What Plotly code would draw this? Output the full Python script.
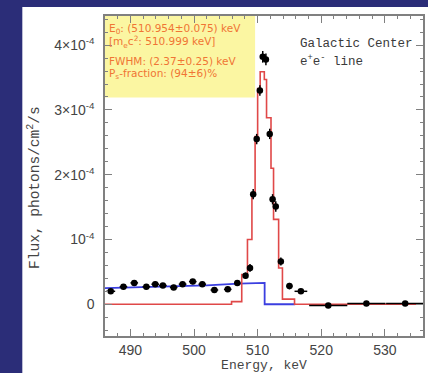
import plotly.graph_objects as go

# Measured spectrum (flux in units of 1e-4 photons/cm^2/s)
energy = [486.9, 488.9, 490.6, 492.5, 493.9, 495.1, 496.8, 498.2, 499.8, 501.3,
          503.2, 505.3, 506.8, 508.1, 508.8, 509.3, 509.85, 510.35, 510.8, 511.3,
          511.9, 512.35, 512.85, 513.65, 515.0, 516.8, 521.1, 527.1, 533.2]
flux = [0.20, 0.27, 0.33, 0.27, 0.31, 0.29, 0.26, 0.31, 0.35, 0.31,
        0.22, 0.23, 0.33, 0.44, 0.56, 1.70, 2.55, 3.30, 3.82, 3.78,
        2.63, 1.62, 1.51, 0.66, 0.28, 0.20, -0.02, 0.01, 0.01]
flux_err = [0.04, 0.04, 0.04, 0.04, 0.04, 0.04, 0.04, 0.04, 0.04, 0.04,
            0.04, 0.04, 0.04, 0.05, 0.06, 0.08, 0.08, 0.08, 0.09, 0.09,
            0.08, 0.08, 0.08, 0.06, 0.05, 0.04, 0.03, 0.03, 0.03]
energy_err = [0.7, 0.6, 0.6, 0.6, 0.6, 0.6, 0.6, 0.6, 0.6, 0.6,
              0.6, 0.6, 0.5, 0.3, 0.3, 0.25, 0.25, 0.25, 0.25, 0.25,
              0.25, 0.25, 0.25, 0.3, 0.5, 1.0, 3.0, 3.0, 3.0]

# Line model (step histogram): bin left edges and contents
line_edges = [486.0, 505.9, 507.5, 508.4, 509.1, 509.6, 510.0, 510.4, 511.05, 511.4,
              512.1, 512.5, 513.3, 513.9, 515.8, 536.0]
line_flux = [0.0, 0.04, 0.46, 1.0, 1.7, 2.59, 3.33, 3.59, 3.47, 2.88,
             2.10, 1.31, 0.56, 0.08, 0.0, 0.0]

# Ortho-positronium continuum
cont_energy = [486.0, 495.0, 502.0, 507.0, 511.1, 511.1, 515.9]
cont_flux = [0.25, 0.27, 0.29, 0.32, 0.33, 0.0, 0.0]

y_tickvals = [0, 1, 2, 3, 4]
y_ticktext = ["0", "10<sup>-4</sup>", "2×10<sup>-4</sup>", "3×10<sup>-4</sup>", "4×10<sup>-4</sup>"]
x_tickvals = [490, 500, 510, 520, 530]

NAVY = "#2b2d78"
AXIS = "#808080"
TXT = "#444444"
ORANGE = "#f07534"

fig = go.Figure()

fig.add_trace(go.Scatter(
    x=cont_energy, y=cont_flux, mode="lines",
    line=dict(color="#3b3fe0", width=1.8), hoverinfo="skip"))

fig.add_trace(go.Scatter(
    x=line_edges, y=line_flux, mode="lines", line_shape="hv",
    line=dict(color="#e04848", width=1.6), hoverinfo="skip"))

fig.add_trace(go.Scatter(
    x=energy, y=flux, mode="markers",
    marker=dict(color="black", size=6.5),
    error_y=dict(type="data", array=flux_err, color="black", thickness=1.5, width=0),
    error_x=dict(type="data", array=energy_err, color="black", thickness=1.5, width=0)))

# White panel behind the chart
fig.add_shape(type="rect", xref="paper", yref="paper",
              x0=-0.26, x1=1.02, y0=-0.2, y1=1.028,
              fillcolor="white", line_width=0, layer="below")
# Fit-result box
fig.add_shape(type="rect", xref="x", yref="paper",
              x0=486, x1=509.6, y0=0.745, y1=1.0,
              fillcolor="#fbf6a2", line_width=0, layer="below")

box_lines = [
    ("E<sub>0</sub>: (510.954±0.075) keV", 0.958),
    ("[m<sub>e</sub>c<sup>2</sup>: 510.999 keV]", 0.918),
    ("FWHM: (2.37±0.25) keV", 0.858),
    ("P<sub>s</sub>-fraction: (94±6)%", 0.818),
]
for txt, yp in box_lines:
    fig.add_annotation(text=txt, xref="paper", yref="paper", x=0.006, y=yp,
                       xanchor="left", yanchor="middle", showarrow=False,
                       font=dict(family="DejaVu Sans", size=10.5, color=ORANGE))

fig.add_annotation(text="Galactic Center", xref="paper", yref="paper", x=0.606, y=0.913,
                   xanchor="left", yanchor="middle", showarrow=False,
                   font=dict(family="Liberation Mono", size=12.5, color="#3a3a3a"))
fig.add_annotation(text="e<sup>+</sup>e<sup>-</sup> line", xref="paper", yref="paper",
                   x=0.606, y=0.860, xanchor="left", yanchor="middle", showarrow=False,
                   font=dict(family="Liberation Mono", size=12.5, color="#3a3a3a"))

# Y-axis title, placed as a rotated label
fig.add_annotation(text="Flux, photons/cm<sup>2</sup>/s", xref="paper", yref="paper",
                   x=-0.225, y=0.464, xanchor="center", yanchor="middle",
                   textangle=-90, showarrow=False,
                   font=dict(family="Liberation Mono", size=14.5, color=TXT))

axis_common = dict(
    showline=True, linecolor=AXIS, linewidth=1.5, mirror="ticks",
    ticks="inside", tickcolor=AXIS, tickwidth=1.2, ticklen=7,
    showgrid=False, zeroline=False,
)

fig.update_xaxes(
    range=[486, 536], tickvals=x_tickvals,
    minor=dict(dtick=2, ticks="inside", ticklen=3.5, tickcolor=AXIS, tickwidth=1),
    tickfont=dict(family="Liberation Sans", size=14, color=TXT),
    title=dict(text="Energy, keV", standoff=3,
               font=dict(family="Liberation Mono", size=13, color=TXT)),
    **axis_common)
fig.update_yaxes(
    range=[-0.49, 4.45], tickvals=y_tickvals, ticktext=y_ticktext,
    minor=dict(dtick=0.2, ticks="inside", ticklen=3.5, tickcolor=AXIS, tickwidth=1),
    tickfont=dict(family="Liberation Sans", size=14, color=TXT),
    ticklabelstandoff=6,
    **axis_common)

fig.update_layout(
    width=428, height=373,
    margin=dict(l=105, r=3, t=16, b=36),
    paper_bgcolor=NAVY, plot_bgcolor="white",
    showlegend=False,
)

fig.write_html("out.html")
